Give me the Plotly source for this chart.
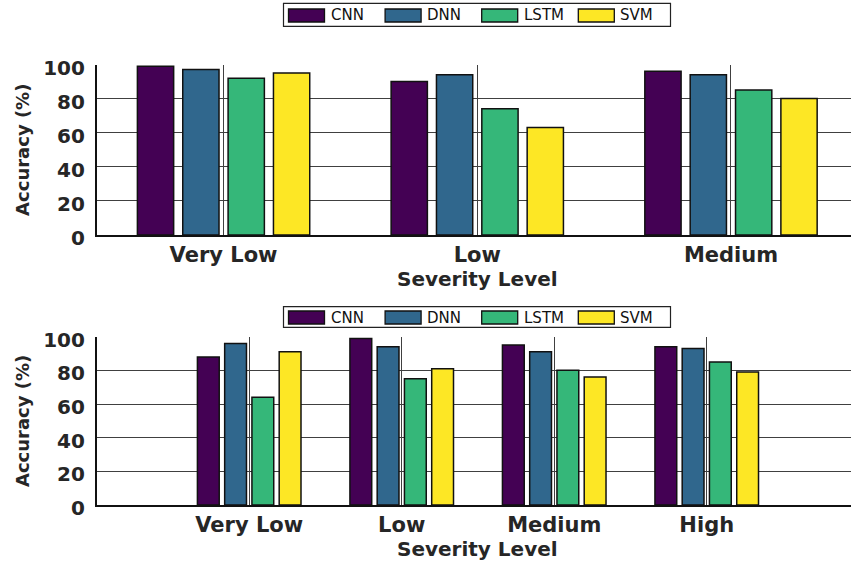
import plotly.graph_objects as go

W, H = 851, 561

# Series names and fill colours
models = ["CNN", "DNN", "LSTM", "SVM"]
colors = ["#440154", "#30678d", "#35b779", "#fde725"]

# Upper panel: accuracy (%) per severity level
levels_top = ["Very Low", "Low", "Medium"]
cnn_top = [99, 90, 96]
dnn_top = [97, 94, 94]
lstm_top = [92, 74, 85]
svm_top = [95, 63, 80]

# Lower panel: accuracy (%) per severity level
levels_bottom = ["Very Low", "Low", "Medium", "High"]
cnn_bottom = [88, 99, 95, 94]
dnn_bottom = [96, 94, 91, 93]
lstm_bottom = [64, 75, 80, 85]
svm_bottom = [91, 81, 76, 79]

y_ticks = [0, 20, 40, 60, 80, 100]

TEXT = "#262626"
GRID = "#404040"


def px_x(px):
    return px / W


def px_y(py):
    return 1 - py / H


fig = go.Figure()

for name, color, vals in zip(models, colors, [cnn_top, dnn_top, lstm_top, svm_top]):
    fig.add_trace(go.Bar(
        x=levels_top, y=vals, name=name, xaxis="x", yaxis="y",
        marker=dict(color=color, line=dict(color="#111111", width=1.5)),
        showlegend=False,
    ))

for name, color, vals in zip(models, colors, [cnn_bottom, dnn_bottom, lstm_bottom, svm_bottom]):
    fig.add_trace(go.Bar(
        x=levels_bottom, y=vals, name=name, xaxis="x2", yaxis="y2",
        marker=dict(color=color, line=dict(color="#111111", width=1.5)),
        showlegend=False,
    ))

tick_font_x = dict(family="DejaVu Sans", size=21, color=TEXT, weight="bold")
tick_font_y = dict(family="DejaVu Sans", size=20, color=TEXT, weight="bold")
title_font = dict(family="DejaVu Sans", size=20, color=TEXT, weight="bold")
ytitle_font = dict(family="DejaVu Sans", size=18, color=TEXT, weight="bold")

common_x = dict(
    type="category", showgrid=True, gridcolor=GRID, gridwidth=1,
    showline=True, linecolor="#111111", linewidth=1.5,
    ticks="", tickfont=tick_font_x, fixedrange=True,
    zeroline=False, automargin=False, ticklabelstandoff=0,
)
common_y = dict(
    range=[0, 100], tickvals=y_ticks, showgrid=True, gridcolor=GRID, gridwidth=1,
    showline=True, linecolor="#111111", linewidth=1.5,
    ticks="", tickfont=tick_font_y, zeroline=False, ticklabelshift=3,
    ticklabelstandoff=6, automargin=False,
)

fig.update_layout(
    width=W, height=H,
    margin=dict(l=0, r=0, t=0, b=0),
    paper_bgcolor="white", plot_bgcolor="white",
    barmode="group", bargap=0.285, bargroupgap=0.2,
    xaxis=dict(
        common_x, domain=[px_x(96.7), 1], anchor="y",
        categoryorder="array", categoryarray=levels_top,
        range=[-0.5, 2.473],
    ),
    yaxis=dict(
        common_y, domain=[px_y(235), px_y(64.5)], anchor="x",
        title=dict(text="Accuracy (%)", font=ytitle_font, standoff=9),
    ),
    xaxis2=dict(
        common_x, domain=[px_x(96.7), 1], anchor="y2",
        categoryorder="array", categoryarray=levels_bottom,
        range=[-1, 3.946],
    ),
    yaxis2=dict(
        common_y, domain=[px_y(505), px_y(336.7)], anchor="x2",
        title=dict(text="Accuracy (%)", font=ytitle_font, standoff=9),
    ),
)

shapes = []
annotations = []

# x-axis titles, set just under the category labels
for title_y in (279, 549):
    annotations.append(dict(
        xref="paper", yref="paper", x=px_x(477), y=px_y(title_y),
        text="Severity Level", showarrow=False, xanchor="center", yanchor="middle",
        font=title_font,
    ))

# Boxed legends with wide swatches above each panel
for box_top, box_bottom, sw_top, sw_bottom in [(3.3, 26.3, 9, 22), (306.7, 327.3, 311, 324)]:
    shapes.append(dict(
        type="rect", xref="paper", yref="paper",
        x0=px_x(283.5), x1=px_x(670.5), y0=px_y(box_bottom), y1=px_y(box_top),
        line=dict(color="#222222", width=1.2), fillcolor="white", layer="above",
    ))
    for i, (name, color) in enumerate(zip(models, colors)):
        sx = 288.5 + i * 96.6
        shapes.append(dict(
            type="rect", xref="paper", yref="paper",
            x0=px_x(sx), x1=px_x(sx + 36), y0=px_y(sw_bottom), y1=px_y(sw_top),
            line=dict(color="#111111", width=1.3), fillcolor=color, layer="above",
        ))
        annotations.append(dict(
            xref="paper", yref="paper", x=px_x(sx + 40), y=px_y((sw_top + sw_bottom) / 2),
            text=name, showarrow=False, xanchor="left", yanchor="middle",
            font=dict(family="DejaVu Sans", size=15, color="#111111"),
        ))

fig.update_layout(shapes=shapes, annotations=annotations)

fig.write_html("out.html")
